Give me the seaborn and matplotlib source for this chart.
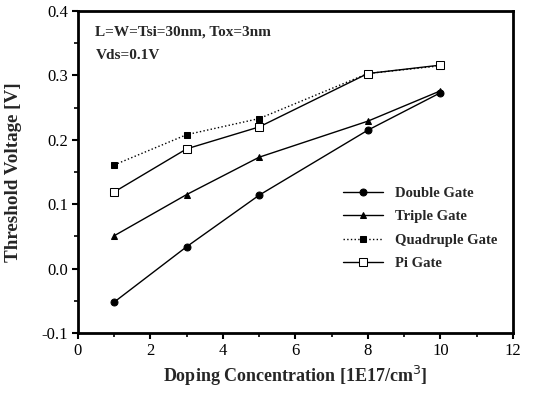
import matplotlib
matplotlib.use("Agg")
import matplotlib.pyplot as plt
import seaborn as sns
import pandas as pd
from matplotlib.ticker import MultipleLocator

doping = [1, 3, 5, 8, 10]
double_gate = [-0.052, 0.034, 0.114, 0.215, 0.273]
triple_gate = [0.051, 0.115, 0.173, 0.229, 0.276]
quadruple_gate = [0.161, 0.208, 0.233, 0.303, 0.315]
pi_gate = [0.119, 0.186, 0.220, 0.303, 0.316]
series_names = ["Double Gate", "Triple Gate", "Quadruple Gate", "Pi Gate"]

sns.set_style("ticks")
plt.rcParams['font.family'] = ['Liberation Serif', 'DejaVu Serif']

fig = plt.figure(figsize=(5.49, 3.95), dpi=100)
ax = fig.add_axes([0.142, 0.157, 0.792, 0.815])

styles = [
    dict(marker="o", mfc="black", ls="-", ms=5),
    dict(marker="^", mfc="black", ls="-", ms=5),
    dict(marker="s", mfc="black", ls=":", ms=5),
    dict(marker="s", mfc="white", ls="-", ms=6),
]
for name, vals, st in zip(series_names, [double_gate, triple_gate, quadruple_gate, pi_gate], styles):
    df = pd.DataFrame({"x": doping, "y": vals})
    sns.lineplot(data=df, x="x", y="y", ax=ax, color="black", lw=1.0,
                 marker=st["marker"], markersize=st["ms"], markerfacecolor=st["mfc"],
                 markeredgecolor="black", linestyle=st["ls"], label=name)

ax.set_xlim(0, 12)
ax.set_ylim(-0.1, 0.4)
ax.xaxis.set_major_locator(MultipleLocator(2))
ax.xaxis.set_minor_locator(MultipleLocator(1))
ax.yaxis.set_major_locator(MultipleLocator(0.1))
ax.yaxis.set_minor_locator(MultipleLocator(0.05))
ax.yaxis.set_major_formatter(matplotlib.ticker.FormatStrFormatter('%.1f'))
ax.tick_params(which="both", direction="out", top=False, right=False, labelsize=12, colors="black")
ax.tick_params(which="major", length=4, width=1.5, pad=3)
ax.tick_params(which="minor", length=3, width=1.2)
for s in ax.spines.values():
    s.set_linewidth(2)
    s.set_color("black")
    s.set_visible(True)

ax.set_xlabel("Doping Concentration [1E17/cm$^3$]", fontsize=13, fontweight="bold")
ax.set_ylabel("Threshold Voltage [V]", fontsize=13.7, fontweight="bold", labelpad=14)

ax.text(0.04, 0.935, "L=W=Tsi=30nm, Tox=3nm", transform=ax.transAxes, fontsize=11, fontweight="bold", va="center")
ax.text(0.04, 0.862, "Vds=0.1V", transform=ax.transAxes, fontsize=11, fontweight="bold", va="center")

leg = ax.legend(loc="center right", bbox_to_anchor=(0.995, 0.325), frameon=False,
                prop={"weight": "bold", "size": 10.5}, handlelength=2.8, labelspacing=0.7)

fig.savefig("out.png", dpi=100)
